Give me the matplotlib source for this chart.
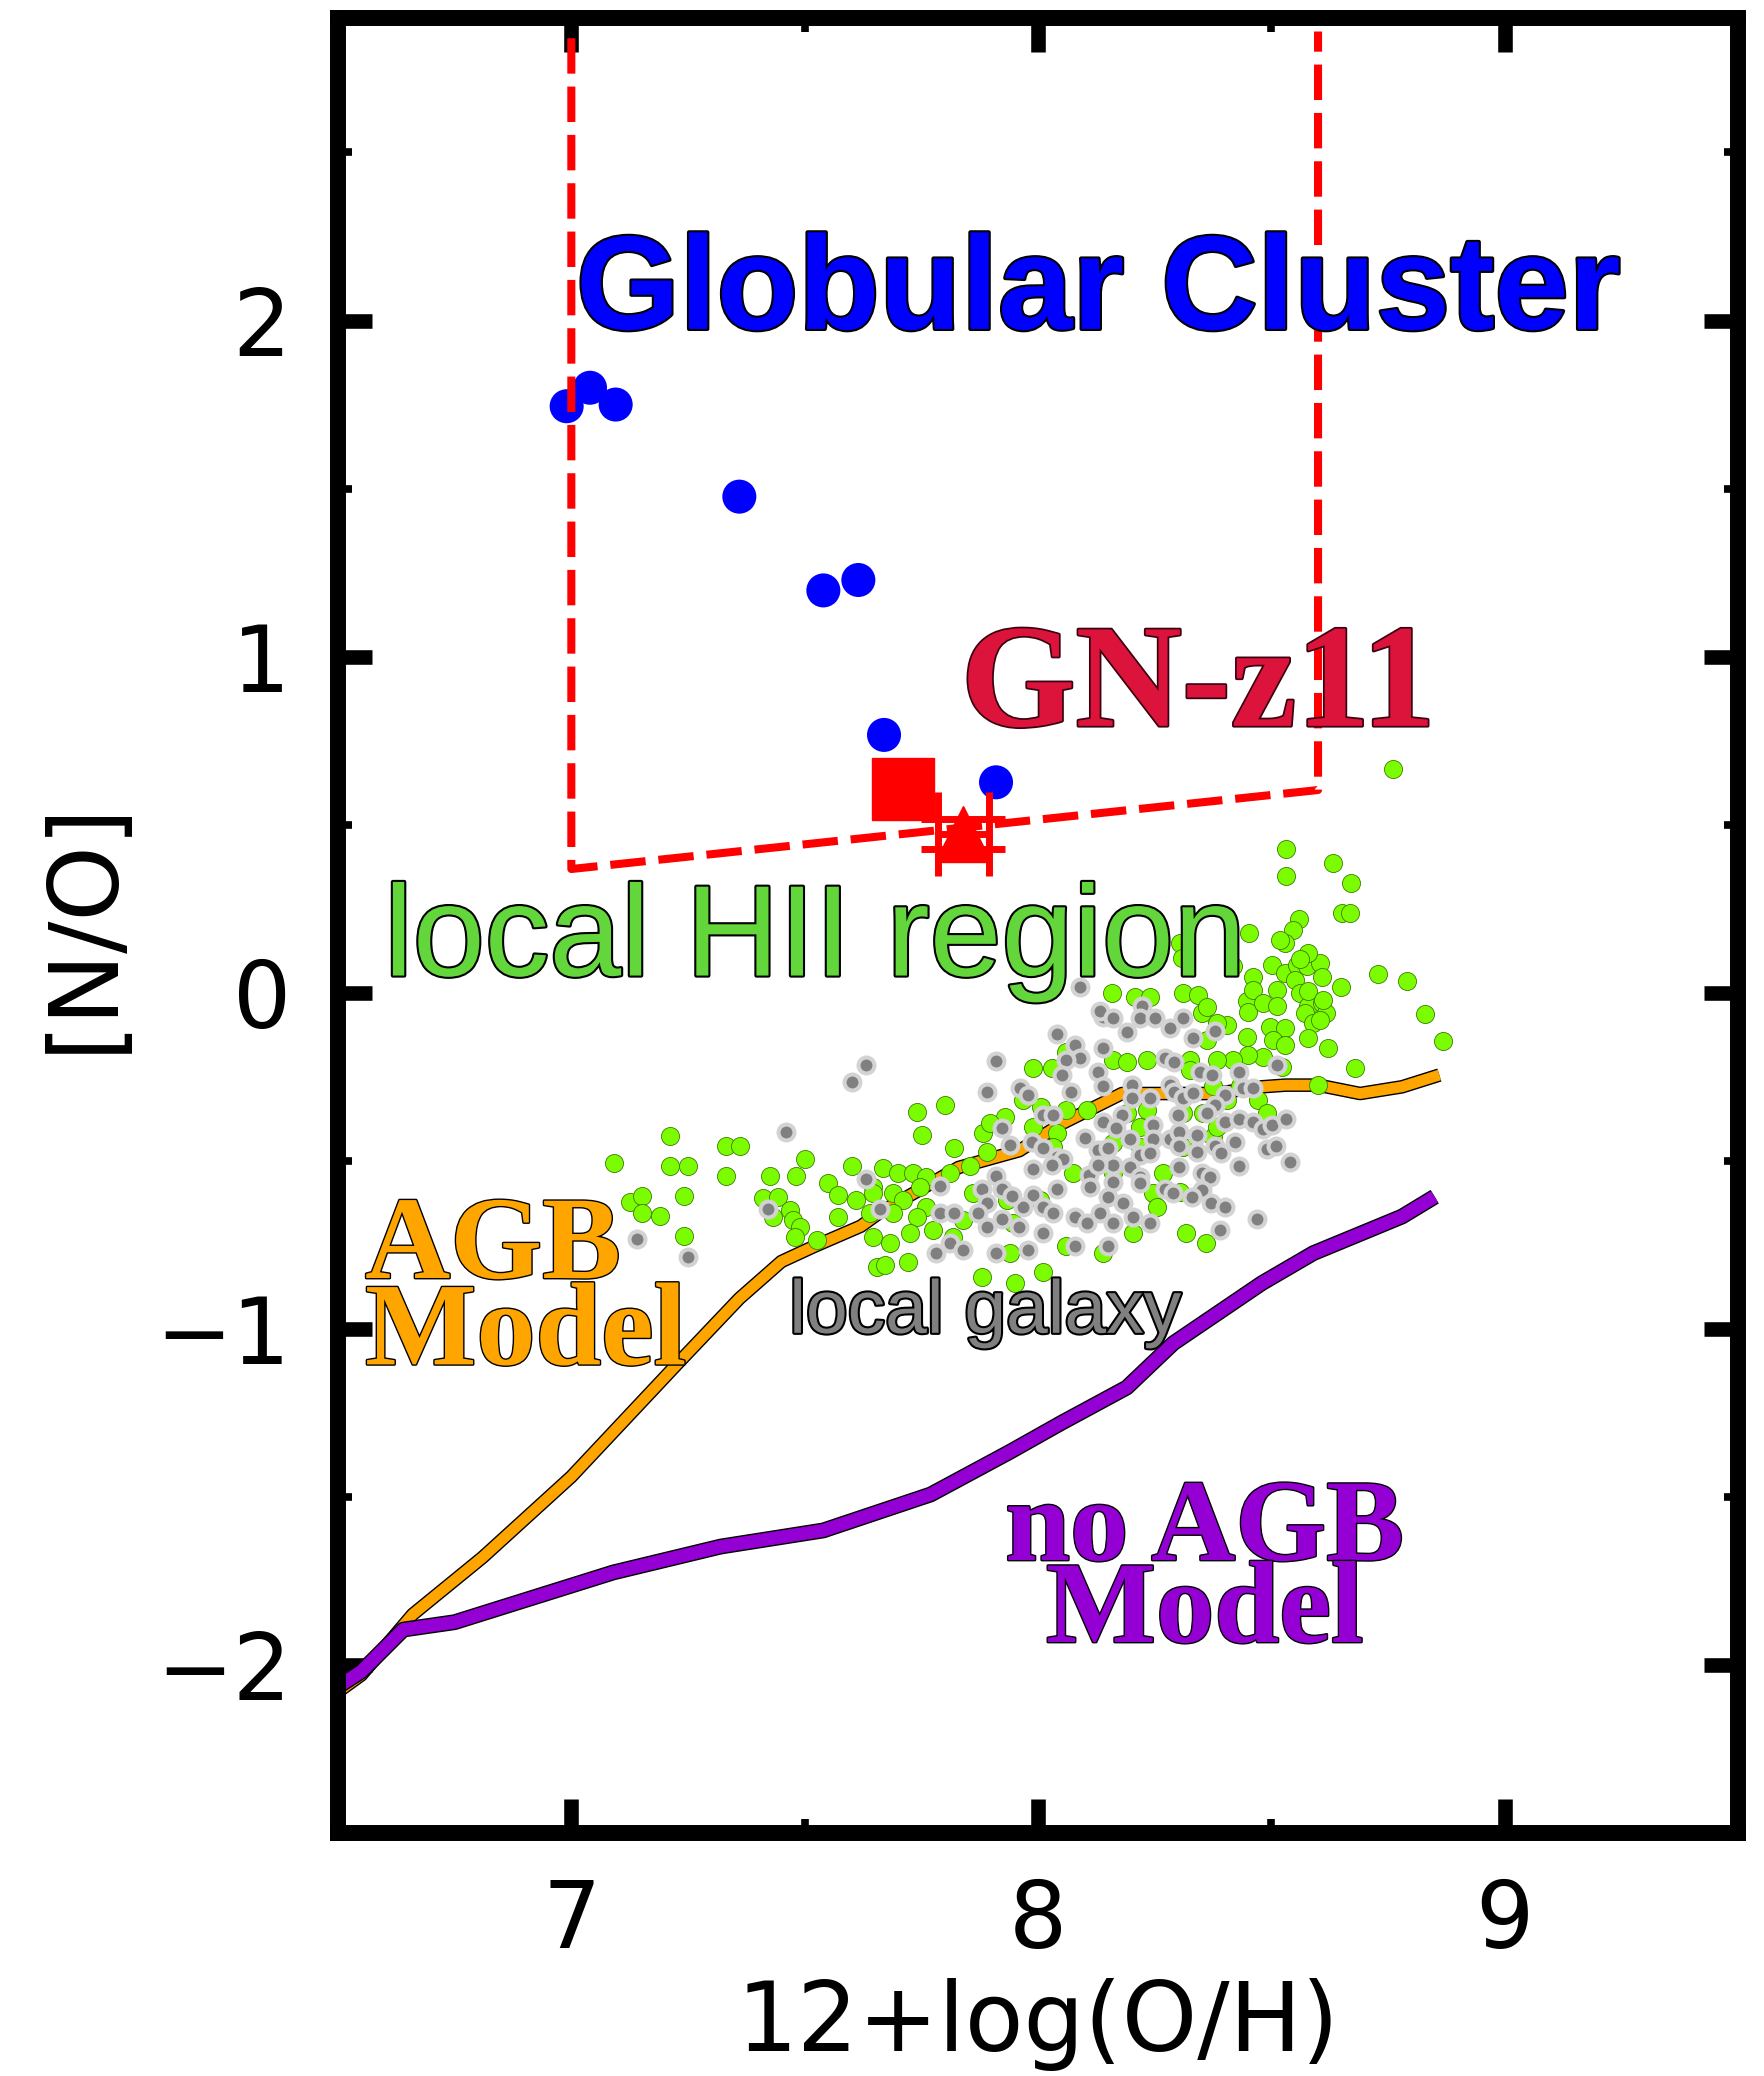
import matplotlib
matplotlib.use("Agg")
import matplotlib.pyplot as plt
from matplotlib import patheffects as pe
from matplotlib.ticker import MultipleLocator

# ---- data ----
# model tracks
agb_x = [6.50, 6.55, 6.66, 6.81, 7.00, 7.23, 7.36, 7.45, 7.52, 7.62, 7.66, 7.83,
         7.96, 8.05, 8.18, 8.38, 8.48, 8.53, 8.60, 8.69, 8.78, 8.86]
agb_y = [-2.08, -2.03, -1.85, -1.68, -1.44, -1.10, -0.91, -0.80, -0.755, -0.695, -0.655, -0.52,
         -0.47, -0.39, -0.30, -0.30, -0.28, -0.275, -0.275, -0.30, -0.28, -0.245]
noagb_x = [6.50, 6.55, 6.64, 6.75, 7.09, 7.32, 7.54, 7.77, 7.94, 8.05, 8.19, 8.29,
           8.48, 8.59, 8.78, 8.85]
noagb_y = [-2.065, -2.02, -1.895, -1.873, -1.725, -1.648, -1.60, -1.493, -1.366, -1.28, -1.175, -1.043,
           -0.864, -0.775, -0.666, -0.607]

# globular clusters
gc_x = [6.99, 7.04, 7.095, 7.36, 7.54, 7.615, 7.67, 7.91]
gc_y = [1.745, 1.80, 1.75, 1.476, 1.197, 1.228, 0.767, 0.626]

# GN-z11
gn_sq_x, gn_sq_y = [7.71], [0.605]
gn_tri_x, gn_tri_y = [7.84], [0.473]
gn_xerr, gn_yerr = [0.055], [0.044]

# GC region outline
box_x = [7.0, 7.0, 8.6, 8.6]
box_y = [2.84, 0.368, 0.603, 2.86]

# local HII regions
hii_x = [7.091, 7.211, 7.211, 7.251, 7.331, 7.361, 7.331, 7.241, 7.126, 7.151, 7.151, 7.190,
         7.241, 7.501, 7.481, 7.426, 7.411, 7.443, 7.433, 7.469, 7.476, 7.490, 7.479, 7.526,
         7.601, 7.551, 7.572, 7.611, 7.572, 7.647, 7.647, 7.654,
         7.740, 7.801, 7.751, 7.821, 7.890, 7.883, 7.929, 7.897, 7.968, 8.007, 8.061, 8.104,
         7.990, 8.040, 7.668, 7.701, 7.733, 7.761, 7.811, 7.854, 7.647, 7.690, 7.747, 7.711,
         7.761, 7.640, 7.690, 7.740, 7.726, 7.776, 7.683, 7.818, 7.861, 7.840, 7.933, 7.947,
         7.940, 8.061, 8.004, 8.076, 8.033, 8.204, 8.247, 7.672, 7.722, 7.879, 7.951, 8.010,
         8.140, 8.190, 8.218, 8.159, 8.208, 8.240, 7.990, 8.029, 8.061, 8.161, 8.190, 8.233,
         8.311, 8.343, 8.351, 8.361, 8.418, 8.461, 8.447, 8.450, 8.461, 8.501, 8.529, 8.554,
         8.551, 8.576, 8.604, 8.608, 8.511, 8.483, 8.511, 8.561, 8.579, 8.572, 8.608, 8.618,
         8.590, 8.604, 8.649, 8.729, 8.790, 8.829, 8.868, 8.621, 8.579, 8.679, 8.600, 8.497,
         8.529, 8.504, 8.529, 8.483, 8.447, 8.450, 8.522, 8.418, 8.383, 8.404, 8.361, 8.383,
         8.326, 8.472, 8.490, 8.318, 8.360, 8.254, 8.304, 8.268, 8.311, 8.375, 8.383, 8.354,
         8.311, 8.233, 8.161, 8.161, 8.218, 8.433, 8.404, 8.375, 8.326,
         8.760, 8.531, 8.531, 8.631, 8.670, 8.651, 8.669, 8.560, 8.547, 8.529, 8.518, 8.451,
         8.304, 8.308, 8.579, 8.561, 8.579, 8.611]
hii_y = [-0.506, -0.425, -0.515, -0.515, -0.455, -0.455, -0.545, -0.605, -0.622, -0.605, -0.656, -0.664,
         -0.724, -0.495, -0.545, -0.545, -0.612, -0.607, -0.666, -0.646, -0.676, -0.696, -0.726, -0.736,
         -0.515, -0.565, -0.602, -0.617, -0.666, -0.577, -0.726, -0.815,
         -0.354, -0.334, -0.423, -0.463, -0.473, -0.418, -0.369, -0.389, -0.319, -0.339, -0.349, -0.349,
         -0.399, -0.418, -0.522, -0.537, -0.537, -0.547, -0.537, -0.517, -0.597, -0.597, -0.577, -0.617,
         -0.637, -0.656, -0.656, -0.666, -0.716, -0.706, -0.746, -0.726, -0.597, -0.676, -0.617, -0.686,
         -0.775, -0.755, -0.617, -0.537, -0.458, -0.716, -0.597, -0.810, -0.800, -0.845, -0.865, -0.830,
         -0.775, -0.359, -0.399, -0.002, -0.012, -0.012, -0.225, -0.225, -0.175, -0.200, -0.205, -0.200,
         -0.002, -0.007, -0.061, -0.042, 0.078, 0.048, -0.026, -0.056, 0.009, 0.083, 0.058, 0.083,
         0.039, 0.078, 0.088, 0.048, 0.009, -0.030, -0.039, -0.002, -0.039, -0.061, -0.030, -0.061,
         -0.091, -0.081, 0.018, 0.056, 0.036, -0.063, -0.143, -0.165, -0.135, -0.225, -0.274, -0.101,
         -0.104, -0.140, -0.155, -0.190, -0.131, -0.185, -0.220, -0.200, -0.200, -0.095, -0.140, -0.091,
         -0.200, -0.319, -0.359, -0.716, -0.744, -0.637, -0.592, -0.537, -0.458, -0.428, -0.399, -0.359,
         -0.359, -0.349, -0.448, -0.537, -0.458, -0.279, -0.319, -0.279, -0.230,
         0.665, 0.427, 0.346, 0.385, 0.326, 0.237, 0.237, 0.218, 0.187, 0.147, 0.157, 0.178,
         0.147, 0.103, 0.118, 0.099, 0.004, -0.021]

# local galaxies
gal_x = [7.631, 7.601, 7.461, 7.631, 7.421, 7.141, 7.251,
         8.090, 8.040, 7.910, 7.890, 7.961, 7.979, 8.079, 8.090, 8.061, 8.051, 8.129, 8.140,
         8.140, 8.070, 8.140, 8.190, 8.222, 8.218, 8.251, 8.133, 8.201, 8.201, 8.240, 8.010,
         8.033, 8.179, 8.140, 8.168, 8.247, 8.197, 8.247, 7.922, 7.940, 7.988, 8.010, 8.101,
         8.129, 8.151, 8.218, 8.040, 8.053, 8.031, 7.990, 8.110, 8.161, 8.129, 8.197, 8.218,
         8.161, 8.111, 8.151, 8.183, 8.040, 7.990, 7.968, 8.010, 8.033, 7.910, 7.881, 7.922,
         7.944, 7.890, 7.872, 7.922, 7.891, 7.960, 8.010, 8.079, 8.104, 8.133, 8.161, 8.203,
         8.240, 7.790, 7.791, 7.820, 7.661, 7.811, 7.781, 7.840, 7.911, 7.979, 8.079, 8.151,
         8.161, 8.283, 8.311, 8.331, 8.379, 8.272, 8.291, 8.511, 8.283, 8.291, 8.311, 8.347,
         8.372, 8.333, 8.401, 8.431, 8.440, 8.461, 8.379, 8.361, 8.299, 8.283, 8.301, 8.340,
         8.401, 8.431, 8.461, 8.481, 8.501, 8.531, 8.421, 8.379, 8.393, 8.340, 8.301, 8.240,
         8.301, 8.351, 8.369, 8.490, 8.510, 8.540, 8.431, 8.219, 8.272, 8.290, 8.351, 8.329,
         8.370, 8.401, 8.470, 8.390]
gal_y = [-0.215, -0.265, -0.415, -0.555, -0.644, -0.734, -0.785,
         0.016, -0.123, -0.203, -0.294, -0.284, -0.304, -0.156, -0.195, -0.200, -0.245, -0.235, -0.165,
         -0.279, -0.294, -0.071, -0.116, -0.041, -0.075, -0.075, -0.054, -0.274, -0.314, -0.314, -0.364,
         -0.364, -0.364, -0.386, -0.403, -0.394, -0.435, -0.435, -0.403, -0.453, -0.443, -0.463, -0.433,
         -0.468, -0.463, -0.483, -0.488, -0.496, -0.512, -0.525, -0.542, -0.512, -0.512, -0.518, -0.547,
         -0.562, -0.577, -0.607, -0.627, -0.585, -0.602, -0.637, -0.637, -0.656, -0.546, -0.585, -0.585,
         -0.605, -0.627, -0.656, -0.674, -0.696, -0.696, -0.716, -0.666, -0.686, -0.656, -0.686, -0.666,
         -0.686, -0.575, -0.656, -0.656, -0.644, -0.746, -0.775, -0.765, -0.775, -0.765, -0.754, -0.754,
         -0.075, -0.106, -0.075, -0.134, -0.114, -0.193, -0.205, -0.215, -0.274, -0.294, -0.314, -0.235,
         -0.245, -0.299, -0.304, -0.235, -0.284, -0.284, -0.334, -0.359, -0.364, -0.435, -0.415, -0.423,
         -0.386, -0.376, -0.386, -0.405, -0.395, -0.376, -0.445, -0.455, -0.478, -0.475, -0.455, -0.478,
         -0.520, -0.535, -0.547, -0.465, -0.455, -0.505, -0.515, -0.565, -0.585, -0.597, -0.587, -0.607,
         -0.627, -0.637, -0.674, -0.706]

# ---- figure ----
fig = plt.figure(figsize=(17.64, 20.76), dpi=100)
ax = fig.add_axes([0.1916, 0.1171, 0.7937, 0.8742])

outline = lambda w: [pe.Stroke(linewidth=w, foreground="black"), pe.Normal()]

ax.plot(agb_x, agb_y, color="#FFA500", lw=7.8, solid_capstyle="butt",
        path_effects=outline(9.8), zorder=2)
ax.plot(noagb_x, noagb_y, color="#9400D3", lw=9.4, solid_capstyle="butt",
        path_effects=outline(11.4), zorder=2)

ax.scatter(hii_x, hii_y, s=169, c="#7CFC00", edgecolors="#3b7d00", linewidths=0.6, zorder=3)
ax.scatter(gal_x, gal_y, s=132, c="#808080", edgecolors="#d3d3d3", linewidths=2.9, zorder=4)

ax.scatter(gc_x, gc_y, s=24.5 ** 2, c="#0000FF", edgecolors="none", zorder=5)
ax.plot(box_x, box_y, color="red", lw=5.8, linestyle=(0, (4.4, 1.6)), zorder=6)

ax.plot(gn_sq_x, gn_sq_y, "s", ms=44, color="red", mec="red", zorder=7)
ax.errorbar(gn_tri_x, gn_tri_y, xerr=gn_xerr, yerr=gn_yerr, fmt="^", ms=41,
            color="red", mec="red", elinewidth=5, capsize=30, capthick=5, zorder=7)

# labels inside the plot
ax.text(7.01, 1.975, "Globular Cluster", fontsize=96, family="Liberation Sans",
        weight="bold", color="#0000FF", path_effects=[pe.withStroke(linewidth=3, foreground="black")],
        zorder=8)
ax.text(7.835, 0.794, "GN-z11", fontsize=106, family="Liberation Serif", weight="bold",
        color="#DC143C", path_effects=[pe.withStroke(linewidth=2.5, foreground="#3a0010")], zorder=8)
ax.text(6.599, 0.051, "local HII region", fontsize=93, family="Liberation Sans",
        color="#63D63B", path_effects=[pe.withStroke(linewidth=3, foreground="black")], zorder=8)
ax.text(7.467, -1.012, "local galaxy", fontsize=54, family="Liberation Sans",
        color="#808080", path_effects=[pe.withStroke(linewidth=3, foreground="black")], zorder=8)
ax.text(6.558, -0.849, "AGB", fontsize=85, family="Liberation Serif", weight="bold",
        color="#FFA500", path_effects=[pe.withStroke(linewidth=2, foreground="black")], zorder=8)
ax.text(6.558, -1.106, "Model", fontsize=85, family="Liberation Serif", weight="bold",
        color="#FFA500", path_effects=[pe.withStroke(linewidth=2, foreground="black")], zorder=8)
ax.text(8.357, -1.688, "no AGB", fontsize=84, family="Liberation Serif", weight="bold", ha="center",
        color="#9400D3", path_effects=[pe.withStroke(linewidth=2, foreground="black")], zorder=8)
ax.text(8.357, -1.932, "Model", fontsize=84, family="Liberation Serif", weight="bold", ha="center",
        color="#9400D3", path_effects=[pe.withStroke(linewidth=2, foreground="black")], zorder=8)

# axes
ax.set_xlim(6.5, 9.5)
ax.set_ylim(-2.5, 2.9)
ax.set_xticks([7, 8, 9])
ax.set_yticks([-2, -1, 0, 1, 2])
ax.xaxis.set_minor_locator(MultipleLocator(0.5))
ax.yaxis.set_minor_locator(MultipleLocator(0.5))
ax.tick_params(which="major", direction="in", length=24.5, width=10.5,
               top=True, right=True, labelsize=66)
ax.tick_params(which="minor", direction="in", length=10, width=5.5, top=True, right=True)
ax.tick_params(axis="x", which="major", pad=32)
ax.tick_params(axis="y", which="major", pad=34)
for s in ax.spines.values():
    s.set_linewidth(11.5)

ax.set_xlabel("12+log(O/H)", fontsize=69, labelpad=8)
ax.set_ylabel("[N/O]", fontsize=69, labelpad=18)

fig.savefig("out.png", dpi=100)
